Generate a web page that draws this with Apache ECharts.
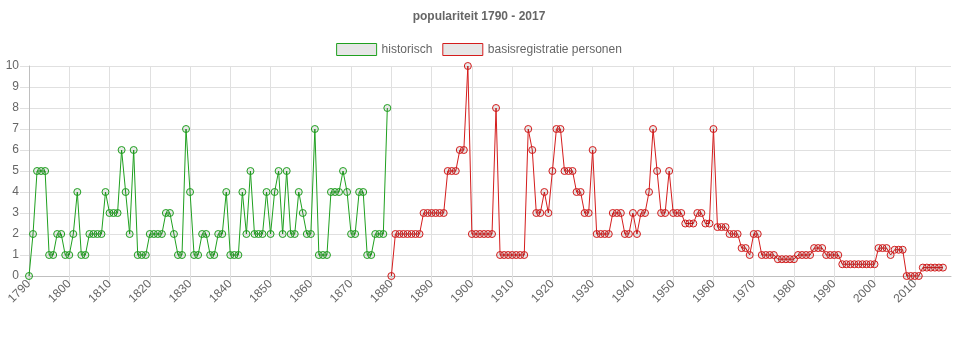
<!DOCTYPE html>
<html>
<head>
<meta charset="utf-8">
<script src="https://cdn.jsdelivr.net/npm/echarts@6/dist/echarts.min.js"></script>
<style>
html,body{margin:0;padding:0;background:#fff;}
#c{width:958px;height:350px;}
</style>
</head>
<body>
<div id="c"></div>
<script>
// categories: years 1790..2019
var years = [];
for (var y = 1790; y <= 2019; y++) years.push(String(y));

var titleText = 'populariteit 1790 - 2017';
var seriesNames = ['historisch', 'basisregistratie personen'];

// historisch 1790..1879
var historisch = [
  0, 2, 5, 5, 5, 1, 1, 2, 2, 1,
  1, 2, 4, 1, 1, 2, 2, 2, 2, 4,
  3, 3, 3, 6, 4, 2, 6, 1, 1, 1,
  2, 2, 2, 2, 3, 3, 2, 1, 1, 7,
  4, 1, 1, 2, 2, 1, 1, 2, 2, 4,
  1, 1, 1, 4, 2, 5, 2, 2, 2, 4,
  2, 4, 5, 2, 5, 2, 2, 4, 3, 2,
  2, 7, 1, 1, 1, 4, 4, 4, 5, 4,
  2, 2, 4, 4, 1, 1, 2, 2, 2, 8
];

// basisregistratie personen 1880..2017
var basis = [
  0, 2, 2, 2, 2, 2, 2, 2, 3, 3,
  3, 3, 3, 3, 5, 5, 5, 6, 6, 10,
  2, 2, 2, 2, 2, 2, 8, 1, 1, 1,
  1, 1, 1, 1, 7, 6, 3, 3, 4, 3,
  5, 7, 7, 5, 5, 5, 4, 4, 3, 3,
  6, 2, 2, 2, 2, 3, 3, 3, 2, 2,
  3, 2, 3, 3, 4, 7, 5, 3, 3, 5,
  3, 3, 3, 2.5, 2.5, 2.5, 3, 3, 2.5, 2.5,
  7, 2.33, 2.33, 2.33, 2, 2, 2, 1.33, 1.33, 1,
  2, 2, 1, 1, 1, 1, 0.8, 0.8, 0.8, 0.8,
  0.8, 1, 1, 1, 1, 1.33, 1.33, 1.33, 1, 1,
  1, 1, 0.56, 0.56, 0.56, 0.56, 0.56, 0.56, 0.56, 0.56,
  0.56, 1.33, 1.33, 1.33, 1, 1.25, 1.25, 1.25, 0, 0,
  0, 0, 0.4, 0.4, 0.4, 0.4, 0.4, 0.4
];

var yTicks = [0, 1, 2, 3, 4, 5, 6, 7, 8, 9, 10];

var green = '#1fa01f';
var red = '#d41c1c';

// align series onto the full category list
var histData = years.map(function (yr) {
  var k = Number(yr) - 1790;
  return k < historisch.length ? historisch[k] : null;
});
var basisData = years.map(function (yr) {
  var k = Number(yr) - 1880;
  return (k >= 0 && k < basis.length) ? basis[k] : null;
});

var every10 = function (i) { return i % 10 === 0; };
var font = 'Arial, "Liberation Sans", sans-serif';

var chart = echarts.init(document.getElementById('c'), null, {renderer: 'canvas'});
chart.setOption({
  animation: false,
  backgroundColor: '#fff',
  title: {
    text: titleText,
    left: 'center',
    top: 11,
    padding: 0,
    textStyle: {color: '#666', fontSize: 12, fontWeight: 'bold', fontFamily: font}
  },
  legend: {
    top: 43,
    left: 'center',
    padding: 0,
    itemWidth: 40,
    itemHeight: 12,
    itemGap: 10,
    icon: 'rect',
    textStyle: {color: '#666', fontSize: 12, fontFamily: font},
    data: [
      {name: seriesNames[0], itemStyle: {color: '#e6e6e6', borderColor: green, borderWidth: 1}},
      {name: seriesNames[1], itemStyle: {color: '#e6e6e6', borderColor: red, borderWidth: 1}}
    ]
  },
  grid: {left: 29, right: 7, top: 66, bottom: 74, containLabel: false},
  xAxis: {
    type: 'category',
    boundaryGap: false,
    data: years,
    axisLine: {show: true, lineStyle: {color: '#bfbfbf', width: 1}},
    axisTick: {show: true, interval: every10, length: 9, lineStyle: {color: '#e0e0e0'}},
    splitLine: {show: true, interval: every10, lineStyle: {color: '#e0e0e0', width: 1}},
    axisLabel: {
      interval: every10, rotate: 45, color: '#666', fontSize: 12, fontFamily: font, margin: 6
    }
  },
  yAxis: {
    type: 'value',
    min: yTicks[0],
    max: yTicks[yTicks.length - 1],
    interval: 1,
    axisLine: {show: true, lineStyle: {color: '#bfbfbf', width: 1}},
    axisTick: {show: true, length: 9, lineStyle: {color: '#e0e0e0'}},
    splitLine: {show: true, lineStyle: {color: '#e0e0e0', width: 1}},
    axisLabel: {color: '#666', fontSize: 12, fontFamily: font, margin: 10}
  },
  series: [
    {
      name: seriesNames[0],
      type: 'line',
      data: histData,
      symbol: 'circle',
      symbolSize: 7,
      showSymbol: true,
      showAllSymbol: true,
      lineStyle: {color: green, width: 1},
      itemStyle: {color: 'rgba(0,0,0,0.08)', borderColor: green, borderWidth: 1},
      emphasis: {disabled: true}
    },
    {
      name: seriesNames[1],
      type: 'line',
      data: basisData,
      symbol: 'circle',
      symbolSize: 7,
      showSymbol: true,
      showAllSymbol: true,
      lineStyle: {color: red, width: 1},
      itemStyle: {color: 'rgba(0,0,0,0.08)', borderColor: red, borderWidth: 1},
      emphasis: {disabled: true}
    }
  ]
});
</script>
</body>
</html>
